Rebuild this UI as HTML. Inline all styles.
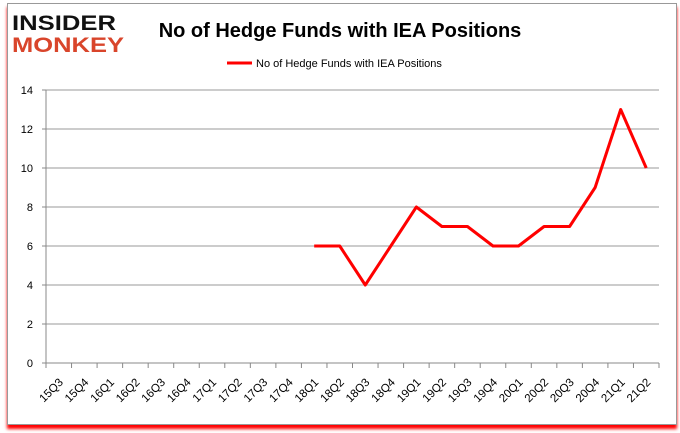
<!DOCTYPE html>
<html><head><meta charset="utf-8"><style>
body{margin:0;background:#fff;font-family:"Liberation Sans",sans-serif}
#card{position:absolute;left:7px;top:3px;width:668px;height:420px;border:1px solid #999;background:#fff;box-shadow:0 4px 3px #f00}
</style></head><body>
<div id="card"></div>
<svg width="680" height="433" style="position:absolute;left:0;top:0" id="chart">
<g font-family="'Liberation Sans',sans-serif" font-weight="900">
<text x="12" y="30" font-size="21" fill="#111" textLength="104" lengthAdjust="spacingAndGlyphs">INSIDER</text>
<text x="12" y="52" font-size="21" fill="#d9452b" textLength="112" lengthAdjust="spacingAndGlyphs">MONKEY</text>
</g>
<text x="340" y="37" font-size="20" font-weight="bold" text-anchor="middle" fill="#000">No of Hedge Funds with IEA Positions</text>
<g>
<line x1="227" y1="63" x2="252" y2="63" stroke="#f00" stroke-width="3"/>
<text x="256" y="67" font-size="11" fill="#000">No of Hedge Funds with IEA Positions</text>
</g>
<g id="grid"></g><g id="axes"></g><g id="series"></g>
</svg>
<script>
const categories=["15Q3","15Q4","16Q1","16Q2","16Q3","16Q4","17Q1","17Q2","17Q3","17Q4","18Q1","18Q2","18Q3","18Q4","19Q1","19Q2","19Q3","19Q4","20Q1","20Q2","20Q3","20Q4","21Q1","21Q2"];
const values=[null,null,null,null,null,null,null,null,null,null,6,6,4,6,8,7,7,6,6,7,7,9,13,10];
const yTicks=[0,2,4,6,8,10,12,14];
const NS="http://www.w3.org/2000/svg";
const L=46,R=659,T=90,B=363,yMax=14;
const step=(R-L)/categories.length;
const xs=i=>L+step*(i+0.5);
const ys=v=>B-(v/yMax)*(B-T);
function mk(t,a,p){const e=document.createElementNS(NS,t);for(const k in a)e.setAttribute(k,a[k]);p.appendChild(e);return e;}
const grid=document.getElementById('grid'),axes=document.getElementById('axes'),series=document.getElementById('series');
yTicks.forEach(v=>{
 const g=mk('line',{x1:L,x2:R,y1:ys(v),y2:ys(v),stroke:v===0?'#888':'#999','stroke-width':1},grid);
 
 
 mk('line',{x1:L-4,x2:L,y1:ys(v),y2:ys(v),stroke:'#888'},axes);
 const t=mk('text',{x:L-13,y:ys(v)+4,'font-size':11,'text-anchor':'end',fill:'#000'},axes);
 t.textContent=v;
 
 
});
mk('line',{x1:L,x2:L,y1:T,y2:B,stroke:'#888'},axes);
for(let i=0;i<=categories.length;i++)mk('line',{x1:L+step*i,x2:L+step*i,y1:B,y2:B+5,stroke:'#888'},axes);
categories.forEach((c,i)=>{
 const x=xs(i)+5,y=B+20;
 const t=mk('text',{x:x,y:y,'font-size':11.5,'text-anchor':'end',fill:'#000',transform:`rotate(-45 ${x} ${y})`},axes);
 t.textContent=c;
 
 
});
let d='';values.forEach((v,i)=>{if(v==null)return;d+=(d?'L':'M')+xs(i)+','+ys(v);});
const p=mk('path',{d:d,fill:'none',stroke:'#f00','stroke-width':3,'stroke-linejoin':'round'},series);


</script>
</body></html>
